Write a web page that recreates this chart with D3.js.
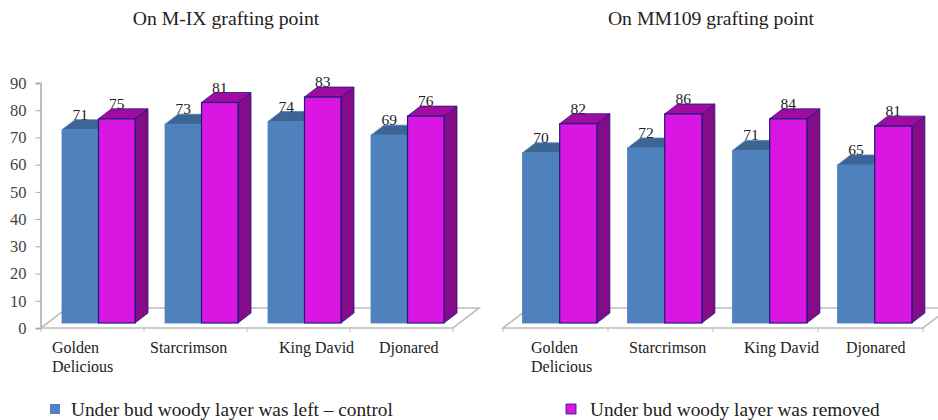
<!DOCTYPE html>
<html>
<head>
<meta charset="utf-8">
<script src="https://cdn.jsdelivr.net/npm/d3@7"></script>
<style>
  html, body { margin: 0; padding: 0; background: #fff; overflow: hidden; }
  text { font-family: "Liberation Serif", serif; fill: #222; }
</style>
</head>
<body>
<div id="chart"></div>
<script>
// values
let varieties = ['Golden Delicious', 'Starcrimson', 'King David', 'Djonared']
let seriesNames = ['Under bud woody layer was left – control', 'Under bud woody layer was removed']
let mixControl = [71, 73, 74, 69]
let mixRemoved = [75, 81, 83, 76]
let mm109Control = [70, 72, 71, 65]
let mm109Removed = [82, 86, 84, 81]
let yTicks = [0, 10, 20, 30, 40, 50, 60, 70, 80, 90]

let width = 938
let height = 420

// 3d look of the bars
let depthX = 13
let depthY = 10
let floorX = 26
let floorY = 20
let barLift = 5
let axisBottom = 328

let colors = [
  { front: '#4f81bd', top: '#3d6593', side: '#3d6593', stroke: '#4f81bd' },
  { front: '#d916e2', top: '#a00ba0', side: '#840c88', stroke: '#1c1c7c' }
]

let svg = d3.select('#chart').append('svg')
  .attr('width', width)
  .attr('height', height)
  .style('display', 'block')

function drawPanel(opts) {
  let g = svg.append('g')

  let x = d3.scaleBand().domain(varieties).range(opts.xRange)
  let y = d3.scaleLinear().domain(opts.yDomain).range([axisBottom, 83])
  let inner = d3.scaleBand().domain([0, 1]).range([opts.pad, opts.pad + opts.barWidth * 2])

  // floor of the 3d plot
  let x0 = opts.xRange[0]
  let x1 = opts.xRange[1]
  g.append('path')
    .attr('d', `M${x0},${axisBottom} L${x0 + floorX},${axisBottom - floorY} L${x1 + floorX},${axisBottom - floorY} L${x1},${axisBottom} Z`)
    .attr('fill', '#fff')
    .attr('stroke', '#bdbdbd')
    .attr('stroke-width', 1.6)

  // category ticks under the floor
  g.selectAll('.cat-tick')
    .data(d3.range(varieties.length + 1))
    .enter()
    .append('line')
    .attr('class', 'cat-tick')
    .attr('x1', d => x0 + d * x.step())
    .attr('x2', d => x0 + d * x.step())
    .attr('y1', axisBottom)
    .attr('y2', axisBottom + 4)
    .attr('stroke', '#bdbdbd')

  // bars
  opts.series.forEach((values, s) => {
    let c = colors[s]
    let bars = g.selectAll('.bar-' + s)
      .data(values)
      .enter()
      .append('g')
      .attr('class', 'bar-' + s)
      .attr('transform', (d, i) => `translate(${x(varieties[i]) + inner(s)},0)`)

    let w = inner.bandwidth()
    let base = y(0) - barLift

    bars.append('path')
      .attr('d', d => {
        let t = y(d) - barLift
        return `M${w},${t} L${w + depthX},${t - depthY} L${w + depthX},${base - depthY} L${w},${base} Z`
      })
      .attr('fill', c.side)
      .attr('stroke', c.stroke)
      .attr('stroke-width', 0.8)

    bars.append('path')
      .attr('d', d => {
        let t = y(d) - barLift
        return `M0,${t} L${depthX},${t - depthY} L${w + depthX},${t - depthY} L${w},${t} Z`
      })
      .attr('fill', c.top)
      .attr('stroke', c.stroke)
      .attr('stroke-width', 0.8)

    bars.append('rect')
      .attr('x', 0)
      .attr('y', d => y(d) - barLift)
      .attr('width', w)
      .attr('height', d => base - y(d) + barLift)
      .attr('fill', c.front)
      .attr('stroke', c.stroke)
      .attr('stroke-width', s === 1 ? 1.2 : 0.8)
  })

  // value labels sit on top of the bars
  opts.series.forEach((values, s) => {
    g.selectAll('.val-' + s)
      .data(values)
      .enter()
      .append('text')
      .attr('class', 'val-' + s)
      .attr('x', (d, i) => x(varieties[i]) + inner(s) + inner.bandwidth() / 2)
      .attr('y', d => y(d) - barLift - 10)
      .attr('text-anchor', 'middle')
      .attr('font-size', 15.5)
      .text(d => d)
  })

  // category labels, Golden Delicious wraps on two lines
  let labels = g.selectAll('.cat-label')
    .data(varieties)
    .enter()
    .append('text')
    .attr('class', 'cat-label')
    .attr('font-size', 16)
    .attr('y', 353)

  labels.each(function(d, i) {
    let words = d === 'Golden Delicious' ? d.split(' ') : [d]
    d3.select(this).selectAll('tspan')
      .data(words)
      .enter()
      .append('tspan')
      .attr('x', opts.labelX[i])
      .attr('dy', (w, j) => j * 19)
      .text(w => w)
  })

  // panel title
  g.append('text')
    .attr('x', opts.titleX)
    .attr('y', 25)
    .attr('text-anchor', 'middle')
    .attr('font-size', 19.7)
    .text(opts.title)

  return { y }
}

let left = drawPanel({
  title: 'On M-IX grafting point',
  titleX: 226,
  xRange: [41, 453],
  yDomain: [0, 90],
  pad: 21,
  barWidth: 36.5,
  labelX: [52, 150, 279, 379],
  series: [mixControl, mixRemoved]
})

drawPanel({
  title: 'On MM109 grafting point',
  titleX: 711,
  xRange: [503, 923],
  yDomain: [0, 100.8],
  pad: 19.5,
  barWidth: 37.2,
  labelX: [531, 629, 744, 846],
  series: [mm109Control, mm109Removed]
})

// value axis only on the left panel
let yAxis = d3.axisLeft(left.y).tickValues(yTicks).tickSize(5).tickPadding(9)
let axisG = svg.append('g')
  .attr('class', 'axis y-axis')
  .attr('transform', 'translate(40.5,0)')
  .call(yAxis)

axisG.select('.domain').attr('stroke', '#bdbdbd').attr('stroke-width', 2)
axisG.selectAll('line').attr('stroke', '#a8a8a8')
axisG.selectAll('text').attr('font-size', 16.5).style('fill', '#444')

// legend
let legendX = [50, 566]
let legendTextX = [71, 590]
seriesNames.forEach((name, i) => {
  svg.append('rect')
    .attr('x', legendX[i])
    .attr('y', 404)
    .attr('width', 10)
    .attr('height', 10)
    .attr('fill', colors[i].front)
    .attr('stroke', i === 1 ? colors[1].stroke : 'none')
    .attr('stroke-width', 0.8)

  svg.append('text')
    .attr('x', legendTextX[i])
    .attr('y', 416)
    .attr('font-size', 19.3)
    .text(name)
})
</script>
</body>
</html>
